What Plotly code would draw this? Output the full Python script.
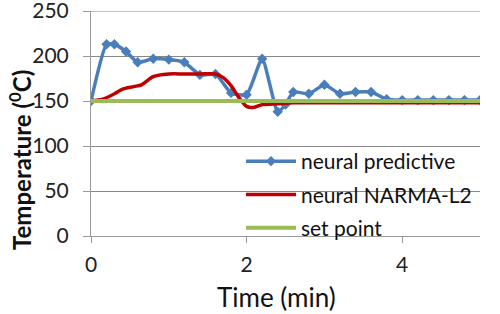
import plotly.graph_objects as go

# Time axis (min) and series values (degC)
t_pred = [0, 0.2, 0.3, 0.45, 0.6, 0.8, 1.0, 1.2, 1.4, 1.6, 1.8, 2.0, 2.2, 2.4, 2.5, 2.6,
          2.8, 3.0, 3.2, 3.4, 3.6, 3.8, 4.0, 4.2, 4.4, 4.6, 4.8, 5.0]
neural_predictive = [150, 213, 213, 205, 193, 197, 196, 193, 179, 180, 159, 157, 197, 138, 146, 160,
                     158, 168, 158, 160, 160, 152, 151, 151, 151, 151, 151, 151]

t_narma = [0, 0.15, 0.3, 0.4, 0.55, 0.65, 0.8, 1.0, 1.2, 1.4, 1.6, 1.7, 1.8, 1.9, 2.0, 2.1,
           2.2, 2.4, 2.6, 3.0, 3.5, 4.0, 4.5, 5.0]
neural_narma_l2 = [150, 152, 158, 163, 166, 168, 177, 180, 180, 180, 180, 176, 167, 154, 144, 143,
                   146, 147, 148, 148, 148, 148, 148, 148]

t_set = [0, 5]
set_point = [150, 150]

x_ticks = [0, 2, 4]
y_ticks = [0, 50, 100, 150, 200, 250]
y_max = 250

FONT = "Lato"

fig = go.Figure()
fig.add_trace(go.Scatter(
    x=t_pred, y=neural_predictive, name="neural predictive", mode="lines+markers",
    line=dict(color="#4A7EBB", width=3.5, shape="spline", smoothing=0.5),
    marker=dict(symbol="diamond", size=8, color="#4A7EBB"),
    legendgroup="a"))
fig.add_trace(go.Scatter(
    x=t_narma, y=neural_narma_l2, name="neural NARMA-L2", mode="lines",
    line=dict(color="#C00000", width=3.5, shape="spline", smoothing=0.8),
    legendgroup="b"))
fig.add_trace(go.Scatter(
    x=t_set, y=set_point, name="set point", mode="lines",
    line=dict(color="#9BBB59", width=4),
    legendgroup="c"))

W, H = 500, 314
fig.update_layout(
    width=W, height=H,
    margin=dict(l=91, r=20, t=11, b=78, autoexpand=False),
    paper_bgcolor="white", plot_bgcolor="white",
    font=dict(family=FONT, size=21, color="#222222"),
    showlegend=True,
    legend=dict(xref="container", yref="container", x=241 / W, y=1 - 141 / H,
                xanchor="left", yanchor="top",
                bgcolor="rgba(0,0,0,0)", font=dict(size=21, color="#111111"),
                traceorder="grouped", tracegroupgap=3, itemwidth=50),
    xaxis=dict(range=[0, 5], tickvals=x_ticks, showgrid=False, zeroline=False,
               showline=True, linecolor="#999999", linewidth=1,
               ticks="outside", ticklen=6, tickcolor="#999999",
               ticklabelstandoff=4,
               tickfont=dict(size=21, family=FONT)),
    yaxis=dict(range=[0, y_max], tickvals=y_ticks, showgrid=True, gridcolor="#888888",
               gridwidth=1, zeroline=False, showline=True, linecolor="#999999",
               linewidth=1, ticks="outside", ticklen=7, tickcolor="#999999",
               ticklabelstandoff=10, ticklabeloverflow="allow",
               tickfont=dict(size=21, family=FONT)),
    shapes=[dict(type="line", xref="paper", x0=0, x1=1, yref="y", y0=y_max, y1=y_max,
                 line=dict(color="#888888", width=1), layer="below")],
    annotations=[
        dict(text="Time (min)", xref="paper", yref="paper", x=0.478, y=-0.273,
             showarrow=False, font=dict(size=26, family=FONT, color="#111111"),
             xanchor="center", yanchor="middle"),
        dict(text="<b>Temperature (<sup>0</sup>C)</b>", xref="paper", yref="paper",
             x=-0.1825, y=0.338, textangle=-90, showarrow=False,
             font=dict(size=24, family=FONT, color="#111111"),
             xanchor="center", yanchor="middle"),
    ],
)

fig.write_html("out.html", config={"displayModeBar": False},
               post_script="document.body.style.margin='0';")
